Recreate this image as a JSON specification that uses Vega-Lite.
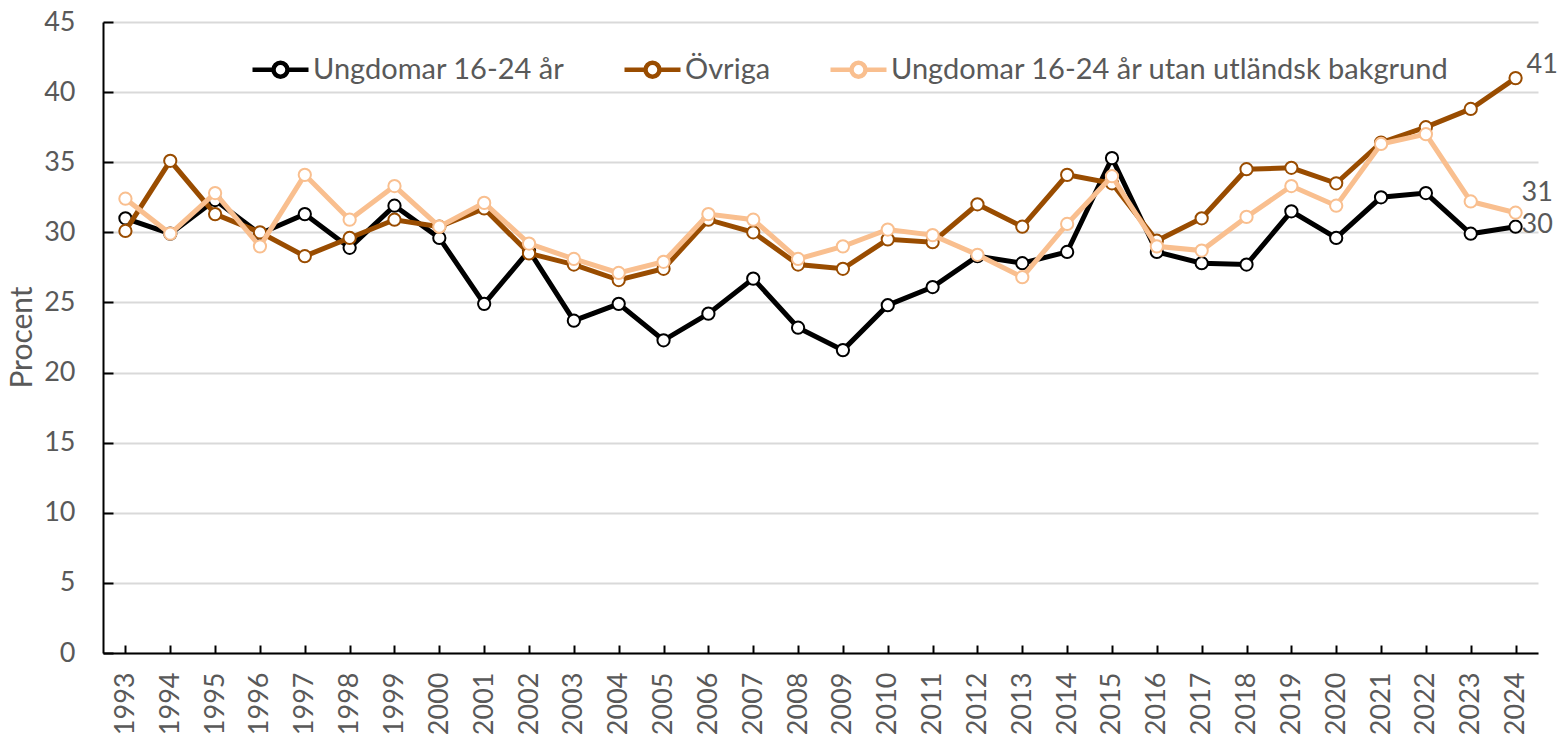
{
  "$schema": "https://vega.github.io/schema/vega-lite/v6.json",
  "width": 1435,
  "height": 631,
  "autosize": "none",
  "padding": {"left": 103, "top": 22, "right": 24, "bottom": 85},
  "background": "white",
  "config": {"font": "Lato", "view": {"stroke": null}},
  "data": {"values": [
    {"year":"1993","serie":"Ungdomar 16-24 år","value":31.0},
    {"year":"1994","serie":"Ungdomar 16-24 år","value":29.9},
    {"year":"1995","serie":"Ungdomar 16-24 år","value":32.3},
    {"year":"1996","serie":"Ungdomar 16-24 år","value":29.9},
    {"year":"1997","serie":"Ungdomar 16-24 år","value":31.3},
    {"year":"1998","serie":"Ungdomar 16-24 år","value":28.9},
    {"year":"1999","serie":"Ungdomar 16-24 år","value":31.9},
    {"year":"2000","serie":"Ungdomar 16-24 år","value":29.6},
    {"year":"2001","serie":"Ungdomar 16-24 år","value":24.9},
    {"year":"2002","serie":"Ungdomar 16-24 år","value":28.7},
    {"year":"2003","serie":"Ungdomar 16-24 år","value":23.7},
    {"year":"2004","serie":"Ungdomar 16-24 år","value":24.9},
    {"year":"2005","serie":"Ungdomar 16-24 år","value":22.3},
    {"year":"2006","serie":"Ungdomar 16-24 år","value":24.2},
    {"year":"2007","serie":"Ungdomar 16-24 år","value":26.7},
    {"year":"2008","serie":"Ungdomar 16-24 år","value":23.2},
    {"year":"2009","serie":"Ungdomar 16-24 år","value":21.6},
    {"year":"2010","serie":"Ungdomar 16-24 år","value":24.8},
    {"year":"2011","serie":"Ungdomar 16-24 år","value":26.1},
    {"year":"2012","serie":"Ungdomar 16-24 år","value":28.3},
    {"year":"2013","serie":"Ungdomar 16-24 år","value":27.8},
    {"year":"2014","serie":"Ungdomar 16-24 år","value":28.6},
    {"year":"2015","serie":"Ungdomar 16-24 år","value":35.3},
    {"year":"2016","serie":"Ungdomar 16-24 år","value":28.6},
    {"year":"2017","serie":"Ungdomar 16-24 år","value":27.8},
    {"year":"2018","serie":"Ungdomar 16-24 år","value":27.7},
    {"year":"2019","serie":"Ungdomar 16-24 år","value":31.5},
    {"year":"2020","serie":"Ungdomar 16-24 år","value":29.6},
    {"year":"2021","serie":"Ungdomar 16-24 år","value":32.5},
    {"year":"2022","serie":"Ungdomar 16-24 år","value":32.8},
    {"year":"2023","serie":"Ungdomar 16-24 år","value":29.9},
    {"year":"2024","serie":"Ungdomar 16-24 år","value":30.4},
    {"year":"1993","serie":"Övriga","value":30.1},
    {"year":"1994","serie":"Övriga","value":35.1},
    {"year":"1995","serie":"Övriga","value":31.3},
    {"year":"1996","serie":"Övriga","value":30.0},
    {"year":"1997","serie":"Övriga","value":28.3},
    {"year":"1998","serie":"Övriga","value":29.6},
    {"year":"1999","serie":"Övriga","value":30.9},
    {"year":"2000","serie":"Övriga","value":30.4},
    {"year":"2001","serie":"Övriga","value":31.7},
    {"year":"2002","serie":"Övriga","value":28.5},
    {"year":"2003","serie":"Övriga","value":27.7},
    {"year":"2004","serie":"Övriga","value":26.6},
    {"year":"2005","serie":"Övriga","value":27.4},
    {"year":"2006","serie":"Övriga","value":30.9},
    {"year":"2007","serie":"Övriga","value":30.0},
    {"year":"2008","serie":"Övriga","value":27.7},
    {"year":"2009","serie":"Övriga","value":27.4},
    {"year":"2010","serie":"Övriga","value":29.5},
    {"year":"2011","serie":"Övriga","value":29.3},
    {"year":"2012","serie":"Övriga","value":32.0},
    {"year":"2013","serie":"Övriga","value":30.4},
    {"year":"2014","serie":"Övriga","value":34.1},
    {"year":"2015","serie":"Övriga","value":33.5},
    {"year":"2016","serie":"Övriga","value":29.4},
    {"year":"2017","serie":"Övriga","value":31.0},
    {"year":"2018","serie":"Övriga","value":34.5},
    {"year":"2019","serie":"Övriga","value":34.6},
    {"year":"2020","serie":"Övriga","value":33.5},
    {"year":"2021","serie":"Övriga","value":36.4},
    {"year":"2022","serie":"Övriga","value":37.5},
    {"year":"2023","serie":"Övriga","value":38.8},
    {"year":"2024","serie":"Övriga","value":41.0},
    {"year":"1993","serie":"Ungdomar 16-24 år utan utländsk bakgrund","value":32.4},
    {"year":"1994","serie":"Ungdomar 16-24 år utan utländsk bakgrund","value":29.9},
    {"year":"1995","serie":"Ungdomar 16-24 år utan utländsk bakgrund","value":32.8},
    {"year":"1996","serie":"Ungdomar 16-24 år utan utländsk bakgrund","value":29.0},
    {"year":"1997","serie":"Ungdomar 16-24 år utan utländsk bakgrund","value":34.1},
    {"year":"1998","serie":"Ungdomar 16-24 år utan utländsk bakgrund","value":30.9},
    {"year":"1999","serie":"Ungdomar 16-24 år utan utländsk bakgrund","value":33.3},
    {"year":"2000","serie":"Ungdomar 16-24 år utan utländsk bakgrund","value":30.4},
    {"year":"2001","serie":"Ungdomar 16-24 år utan utländsk bakgrund","value":32.1},
    {"year":"2002","serie":"Ungdomar 16-24 år utan utländsk bakgrund","value":29.2},
    {"year":"2003","serie":"Ungdomar 16-24 år utan utländsk bakgrund","value":28.1},
    {"year":"2004","serie":"Ungdomar 16-24 år utan utländsk bakgrund","value":27.1},
    {"year":"2005","serie":"Ungdomar 16-24 år utan utländsk bakgrund","value":27.9},
    {"year":"2006","serie":"Ungdomar 16-24 år utan utländsk bakgrund","value":31.3},
    {"year":"2007","serie":"Ungdomar 16-24 år utan utländsk bakgrund","value":30.9},
    {"year":"2008","serie":"Ungdomar 16-24 år utan utländsk bakgrund","value":28.1},
    {"year":"2009","serie":"Ungdomar 16-24 år utan utländsk bakgrund","value":29.0},
    {"year":"2010","serie":"Ungdomar 16-24 år utan utländsk bakgrund","value":30.2},
    {"year":"2011","serie":"Ungdomar 16-24 år utan utländsk bakgrund","value":29.8},
    {"year":"2012","serie":"Ungdomar 16-24 år utan utländsk bakgrund","value":28.4},
    {"year":"2013","serie":"Ungdomar 16-24 år utan utländsk bakgrund","value":26.8},
    {"year":"2014","serie":"Ungdomar 16-24 år utan utländsk bakgrund","value":30.6},
    {"year":"2015","serie":"Ungdomar 16-24 år utan utländsk bakgrund","value":34.0},
    {"year":"2016","serie":"Ungdomar 16-24 år utan utländsk bakgrund","value":29.0},
    {"year":"2017","serie":"Ungdomar 16-24 år utan utländsk bakgrund","value":28.7},
    {"year":"2018","serie":"Ungdomar 16-24 år utan utländsk bakgrund","value":31.1},
    {"year":"2019","serie":"Ungdomar 16-24 år utan utländsk bakgrund","value":33.3},
    {"year":"2020","serie":"Ungdomar 16-24 år utan utländsk bakgrund","value":31.9},
    {"year":"2021","serie":"Ungdomar 16-24 år utan utländsk bakgrund","value":36.3},
    {"year":"2022","serie":"Ungdomar 16-24 år utan utländsk bakgrund","value":37.0},
    {"year":"2023","serie":"Ungdomar 16-24 år utan utländsk bakgrund","value":32.2},
    {"year":"2024","serie":"Ungdomar 16-24 år utan utländsk bakgrund","value":31.4}
  ]},
  "encoding": {
    "x": {
      "field": "year", "type": "ordinal", "sort": null,
      "scale": {"type": "point", "padding": 0.5},
      "axis": {
        "title": null, "labelAngle": -90, "labelFontSize": 27, "labelColor": "#595959",
        "domainColor": "#000000", "domainWidth": 2, "tickColor": "#000000", "tickWidth": 2,
        "tickSize": -8, "labelPadding": 27, "grid": false
      }
    },
    "y": {
      "field": "value", "type": "quantitative",
      "scale": {"domain": [0, 45], "nice": false},
      "axis": {
        "title": "Procent", "titleFontSize": 30, "titleColor": "#595959", "titleFontWeight": "normal",
        "titleX": -66, "titleY": 315, "titleAngle": -90, "titleBaseline": "bottom", "titleAlign": "center",
        "values": [0, 5, 10, 15, 20, 25, 30, 35, 40, 45],
        "labelFontSize": 27, "labelColor": "#595959",
        "domainColor": "#000000", "domainWidth": 2, "tickColor": "#000000", "tickWidth": 2,
        "tickSize": -10, "labelPadding": 38,
        "grid": true, "gridColor": "#D9D9D9", "gridWidth": 2
      }
    },
    "color": {
      "field": "serie", "type": "nominal",
      "scale": {
        "domain": ["Ungdomar 16-24 år", "Övriga", "Ungdomar 16-24 år utan utländsk bakgrund"],
        "range": ["#000000", "#994C00", "#F9BF8F"]
      },
      "legend": {
        "title": null, "orient": "none", "legendX": 147, "legendY": 17, "direction": "horizontal",
        "labelFontSize": 29, "labelColor": "#595959", "labelLimit": 800, "labelOffset": 2,
        "columnPadding": 50,
        "symbolType": "M-1,0H-0.25M0.25,0H1M0.25,0A0.25,0.25,0,1,1,-0.25,0A0.25,0.25,0,1,1,0.25,0",
        "symbolSize": 3136, "symbolStrokeWidth": 4.5,
        "encode": {"symbols": {"update": {"fill": {"value": "white"}, "opacity": {"value": 1}}}}
      }
    }
  },
  "layer": [
    {
      "transform": [{"filter": {"field": "serie", "equal": "Ungdomar 16-24 år"}}],
      "mark": {"type": "line", "strokeWidth": 5, "point": {"filled": false, "fill": "white", "size": 150, "strokeWidth": 2, "opacity": 1}}
    },
    {
      "transform": [{"filter": {"field": "serie", "equal": "Övriga"}}],
      "mark": {"type": "line", "strokeWidth": 5, "point": {"filled": false, "fill": "white", "size": 150, "strokeWidth": 2, "opacity": 1}}
    },
    {
      "transform": [{"filter": {"field": "serie", "equal": "Ungdomar 16-24 år utan utländsk bakgrund"}}],
      "mark": {"type": "line", "strokeWidth": 5, "point": {"filled": false, "fill": "white", "size": 150, "strokeWidth": 2, "opacity": 1}}
    },
    {
      "transform": [{"filter": {"field": "serie", "equal": "Övriga"}}, {"filter": {"field": "year", "equal": "2024"}}],
      "mark": {"type": "text", "align": "left", "baseline": "middle", "dx": 11, "dy": -13, "fontSize": 27},
      "encoding": {"text": {"field": "value", "type": "quantitative", "format": ".0f"}, "color": {"value": "#595959"}}
    },
    {
      "transform": [{"filter": {"field": "serie", "equal": "Ungdomar 16-24 år utan utländsk bakgrund"}}, {"filter": {"field": "year", "equal": "2024"}}],
      "mark": {"type": "text", "align": "left", "baseline": "middle", "dx": 6, "dy": -20, "fontSize": 27},
      "encoding": {"text": {"field": "value", "type": "quantitative", "format": ".0f"}, "color": {"value": "#595959"}}
    },
    {
      "transform": [{"filter": {"field": "serie", "equal": "Ungdomar 16-24 år"}}, {"filter": {"field": "year", "equal": "2024"}}],
      "mark": {"type": "text", "align": "left", "baseline": "middle", "dx": 6, "dy": -2, "fontSize": 27},
      "encoding": {"text": {"field": "value", "type": "quantitative", "format": ".0f"}, "color": {"value": "#595959"}}
    }
  ]
}
